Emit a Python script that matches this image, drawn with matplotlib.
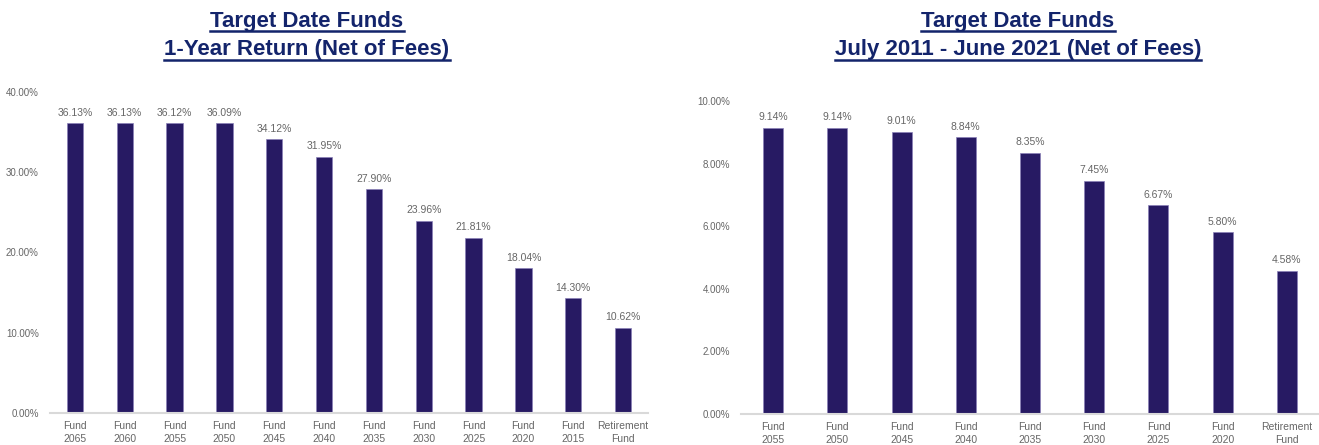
import matplotlib
matplotlib.use("Agg")
import matplotlib.pyplot as plt
from matplotlib.ticker import FuncFormatter, MultipleLocator
from matplotlib.lines import Line2D

plt.rcParams['font.family'] = ['Liberation Sans Narrow', 'Liberation Sans', 'DejaVu Sans']

left_categories = ["Fund\n2065", "Fund\n2060", "Fund\n2055", "Fund\n2050", "Fund\n2045", "Fund\n2040",
                   "Fund\n2035", "Fund\n2030", "Fund\n2025", "Fund\n2020", "Fund\n2015", "Retirement\nFund"]
left_values = [36.13, 36.13, 36.12, 36.09, 34.12, 31.95, 27.90, 23.96, 21.81, 18.04, 14.30, 10.62]

right_categories = ["Fund\n2055", "Fund\n2050", "Fund\n2045", "Fund\n2040", "Fund\n2035",
                    "Fund\n2030", "Fund\n2025", "Fund\n2020", "Retirement\nFund"]
right_values = [9.14, 9.14, 9.01, 8.84, 8.35, 7.45, 6.67, 5.80, 4.58]

left_title = ["Target Date Funds", "1-Year Return (Net of Fees)"]
right_title = ["Target Date Funds", "July 2011 - June 2021 (Net of Fees)"]

W, H = 1319, 445
fig = plt.figure(figsize=(W / 100, H / 100), dpi=100)

BAR = "#271a63"
GRAY = "#666666"
TITLE = "#13246b"


def make_axes(px_left, px_right, px_zero, px_top):
    return fig.add_axes([px_left / W, (H - px_zero) / H, (px_right - px_left) / W, (px_zero - px_top) / H])


def draw(ax, cats, vals, ymax, step, bar_w_frac):
    x = list(range(len(cats)))
    ax.bar(x, vals, width=bar_w_frac, color=BAR, edgecolor="#8a80b8", linewidth=0.5)
    ax.set_xlim(-0.5, len(cats) - 0.5)
    ax.set_ylim(0, ymax)
    ax.yaxis.set_major_locator(MultipleLocator(step))
    ax.yaxis.set_major_formatter(FuncFormatter(lambda v, p: f"{v:.2f}%"))
    ax.set_xticks(x)
    ax.set_xticklabels(cats, fontsize=7.5, color=GRAY, linespacing=1.3)
    ax.tick_params(axis='y', labelsize=7, colors=GRAY, length=0, pad=8)
    ax.tick_params(axis='x', length=0, pad=6)
    for s in ["top", "right", "left"]:
        ax.spines[s].set_visible(False)
    ax.spines["bottom"].set_color("#d9d9d9")
    ax.spines["bottom"].set_linewidth(1.5)
    for xi, v in zip(x, vals):
        ax.annotate(f"{v:.2f}%", (xi, v), xytext=(0, 4), textcoords="offset points",
                    ha="center", va="bottom", fontsize=7.5, color=GRAY)


axL = make_axes(50, 648, 413, 92)
draw(axL, left_categories, left_values, 40, 10, 0.33)
axR = make_axes(741, 1319, 414, 101)
draw(axR, right_categories, right_values, 10, 2, 0.31)

titles = []
for cx, lines in [(307, left_title), (1018, right_title)]:
    for i, (ln, cy) in enumerate(zip(lines, [21, 50])):
        t = fig.text(cx / W, 1 - cy / H, ln, ha="center", va="center", fontsize=16,
                     fontweight="bold", color=TITLE)
        titles.append(t)

fig.canvas.draw()
r = fig.canvas.get_renderer()
for t in titles:
    bb = t.get_window_extent(r)
    y = (bb.y0 + 1) / H
    fig.add_artist(Line2D([bb.x0 / W, bb.x1 / W], [y, y], color=TITLE, lw=1.8,
                          transform=fig.transFigure))

fig.savefig("out.png", dpi=100)
